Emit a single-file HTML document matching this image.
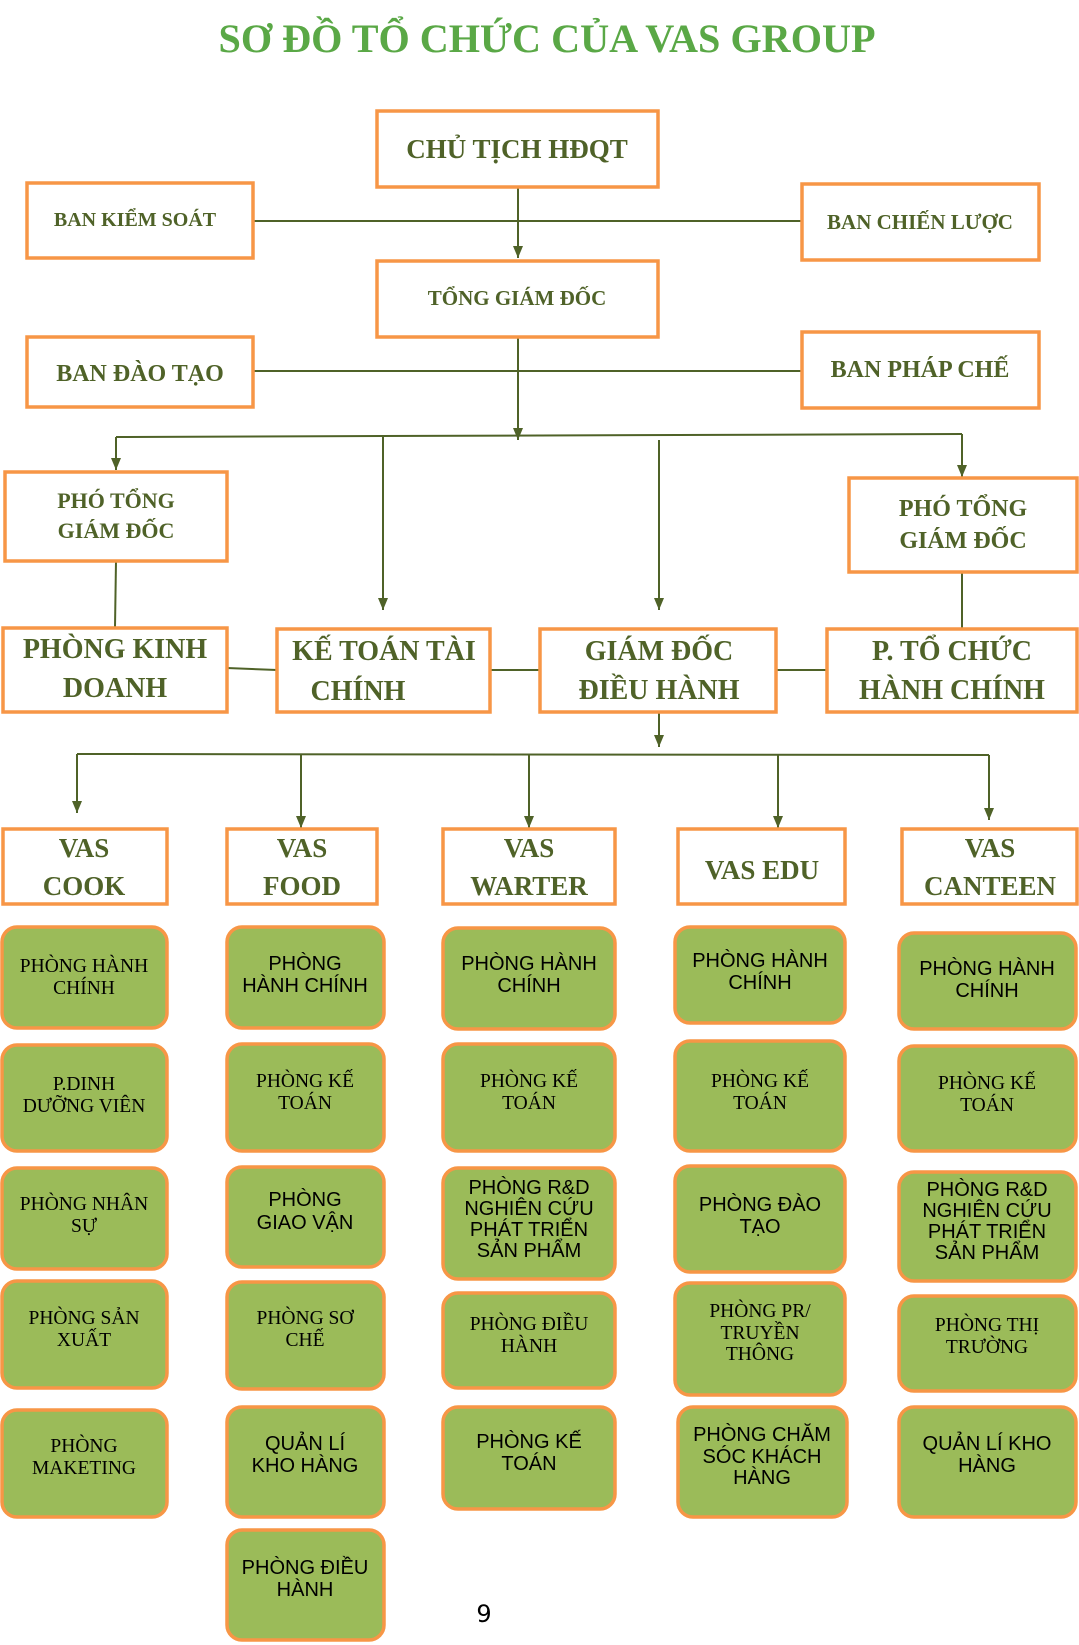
<!DOCTYPE html>
<html><head><meta charset="utf-8"><style>
html,body{margin:0;padding:0;background:#fff;width:1079px;height:1645px;overflow:hidden}
svg{display:block}
.t{font-family:"Liberation Serif",serif;font-weight:bold;fill:#4f6228;text-anchor:middle}
.g{font-family:"Liberation Sans",sans-serif;fill:#000;text-anchor:middle;font-size:20px}
.gs{font-family:"Liberation Serif",serif;fill:#000;text-anchor:middle;font-size:19.5px}
.b{fill:#fff;stroke:#f79646;stroke-width:3.5}
.gb{fill:#9bbb59;stroke:#f79646;stroke-width:3.5}
.l{stroke:#4f6228;stroke-width:2;fill:none}
</style></head><body>
<svg width="1079" height="1645" viewBox="0 0 1079 1645" xmlns="http://www.w3.org/2000/svg">
<defs>
<marker id="ar" viewBox="0 0 12 10" markerWidth="12" markerHeight="10" refX="12" refY="5" orient="auto" markerUnits="userSpaceOnUse"><path d="M0,0 L12,5 L0,10 Z" fill="#4f6228"/></marker></defs>

<text x="547" y="52" class="t" style="fill:#5aa846;font-size:40px" textLength="657" lengthAdjust="spacingAndGlyphs">SƠ ĐỒ TỔ CHỨC CỦA VAS GROUP</text>

<line class="l" x1="253" y1="221" x2="802" y2="221"/>
<line class="l" x1="518" y1="187" x2="518" y2="258" marker-end="url(#ar)"/>
<line class="l" x1="253" y1="371" x2="802" y2="371"/>
<line class="l" x1="518" y1="337" x2="518" y2="440" marker-end="url(#ar)"/>
<line class="l" x1="116" y1="437" x2="962" y2="434"/>
<line class="l" x1="116" y1="437" x2="116" y2="470" marker-end="url(#ar)"/>
<line class="l" x1="383" y1="437" x2="383" y2="610" marker-end="url(#ar)"/>
<line class="l" x1="659" y1="440" x2="659" y2="610" marker-end="url(#ar)"/>
<line class="l" x1="962" y1="434" x2="962" y2="477" marker-end="url(#ar)"/>
<line class="l" x1="116" y1="561" x2="115" y2="627"/>
<line class="l" x1="962" y1="572" x2="962" y2="628"/>
<line class="l" x1="227" y1="668" x2="277" y2="670"/>
<line class="l" x1="490" y1="670" x2="540" y2="670"/>
<line class="l" x1="776" y1="670" x2="827" y2="670"/>
<line class="l" x1="659" y1="712" x2="659" y2="747" marker-end="url(#ar)"/>
<line class="l" x1="77" y1="754" x2="989" y2="755"/>
<line class="l" x1="77" y1="754" x2="77" y2="813" marker-end="url(#ar)"/>
<line class="l" x1="301" y1="754" x2="301" y2="828" marker-end="url(#ar)"/>
<line class="l" x1="529" y1="754" x2="529" y2="828" marker-end="url(#ar)"/>
<line class="l" x1="778" y1="755" x2="778" y2="828" marker-end="url(#ar)"/>
<line class="l" x1="989" y1="755" x2="989" y2="820" marker-end="url(#ar)"/>

<rect class="b" x="377" y="111" width="281" height="76"/>
<text class="t" x="517" y="158" font-size="27">CHỦ TỊCH HĐQT</text>
<rect class="b" x="27" y="183" width="226" height="75"/>
<text class="t" x="135" y="226" font-size="20">BAN KIỂM SOÁT</text>
<rect class="b" x="802" y="184" width="237" height="76"/>
<text class="t" x="920" y="229" font-size="21">BAN CHIẾN LƯỢC</text>
<rect class="b" x="377" y="261" width="281" height="76"/>
<text class="t" x="517" y="305" font-size="21">TỔNG GIÁM ĐỐC</text>
<rect class="b" x="27" y="337" width="226" height="70"/>
<text class="t" x="140" y="381" font-size="24">BAN ĐÀO TẠO</text>
<rect class="b" x="802" y="332" width="237" height="76"/>
<text class="t" x="920" y="377" font-size="24">BAN PHÁP CHẾ</text>

<rect class="b" x="5" y="472" width="222" height="89"/>
<text class="t" x="116" y="508" font-size="22">PHÓ TỔNG</text>
<text class="t" x="116" y="538" font-size="22">GIÁM ĐỐC</text>
<rect class="b" x="849" y="478" width="228" height="94"/>
<text class="t" x="963" y="516" font-size="24">PHÓ TỔNG</text>
<text class="t" x="963" y="548" font-size="24">GIÁM ĐỐC</text>

<rect class="b" x="3" y="628" width="224" height="84"/>
<text class="t" x="115" y="658" font-size="28">PHÒNG KINH</text>
<text class="t" x="115" y="697" font-size="28">DOANH</text>
<rect class="b" x="277" y="629" width="213" height="83"/>
<text class="t" x="384" y="660" font-size="28">KẾ TOÁN TÀI</text>
<text class="t" x="358" y="700" font-size="28">CHÍNH</text>
<rect class="b" x="540" y="629" width="236" height="83"/>
<text class="t" x="659" y="660" font-size="28">GIÁM ĐỐC</text>
<text class="t" x="659" y="699" font-size="28">ĐIỀU HÀNH</text>
<rect class="b" x="827" y="629" width="250" height="83"/>
<text class="t" x="952" y="660" font-size="28">P. TỔ CHỨC</text>
<text class="t" x="952" y="699" font-size="28">HÀNH CHÍNH</text>

<rect class="b" x="3" y="829" width="164" height="75"/>
<text class="t" x="84" y="857" font-size="27">VAS</text><text class="t" x="84" y="895" font-size="27">COOK</text>
<rect class="b" x="227" y="829" width="150" height="75"/>
<text class="t" x="302" y="857" font-size="27">VAS</text><text class="t" x="302" y="895" font-size="27">FOOD</text>
<rect class="b" x="443" y="829" width="172" height="75"/>
<text class="t" x="529" y="857" font-size="27">VAS</text><text class="t" x="529" y="895" font-size="27">WARTER</text>
<rect class="b" x="678" y="829" width="167" height="75"/>
<text class="t" x="762" y="879" font-size="27">VAS EDU</text>
<rect class="b" x="902" y="829" width="175" height="75"/>
<text class="t" x="990" y="857" font-size="27">VAS</text><text class="t" x="990" y="895" font-size="27">CANTEEN</text>

<rect class="gb" x="2" y="927" width="165" height="101" rx="15"/>
<text class="gs" x="84" y="972">PHÒNG HÀNH</text><text class="gs" x="84" y="994">CHÍNH</text>
<rect class="gb" x="2" y="1045" width="165" height="106" rx="15"/>
<text class="gs" x="84" y="1090">P.DINH</text><text class="gs" x="84" y="1112">DƯỠNG VIÊN</text>
<rect class="gb" x="2" y="1168" width="165" height="101" rx="15"/>
<text class="gs" x="84" y="1210">PHÒNG NHÂN</text><text class="gs" x="84" y="1232">SỰ</text>
<rect class="gb" x="2" y="1281" width="165" height="107" rx="15"/>
<text class="gs" x="84" y="1324">PHÒNG SẢN</text><text class="gs" x="84" y="1346">XUẤT</text>
<rect class="gb" x="2" y="1410" width="165" height="107" rx="15"/>
<text class="gs" x="84" y="1452">PHÒNG</text><text class="gs" x="84" y="1474">MAKETING</text>

<rect class="gb" x="227" y="927" width="157" height="101" rx="15"/>
<text class="g" x="305" y="970">PHÒNG</text><text class="g" x="305" y="992">HÀNH  CHÍNH</text>
<rect class="gb" x="227" y="1044" width="157" height="107" rx="15"/>
<text class="gs" x="305" y="1087">PHÒNG KẾ</text><text class="gs" x="305" y="1109">TOÁN</text>
<rect class="gb" x="227" y="1167" width="157" height="100" rx="15"/>
<text class="g" x="305" y="1206">PHÒNG</text><text class="g" x="305" y="1229">GIAO VẬN</text>
<rect class="gb" x="227" y="1282" width="157" height="107" rx="15"/>
<text class="gs" x="305" y="1324">PHÒNG SƠ</text><text class="gs" x="305" y="1346">CHẾ</text>
<rect class="gb" x="227" y="1407" width="157" height="110" rx="15"/>
<text class="g" x="305" y="1450">QUẢN LÍ</text><text class="g" x="305" y="1472">KHO HÀNG</text>
<rect class="gb" x="227" y="1530" width="157" height="110" rx="15"/>
<text class="g" x="305" y="1574">PHÒNG ĐIỀU</text><text class="g" x="305" y="1596">HÀNH</text>

<rect class="gb" x="443" y="928" width="172" height="101" rx="15"/>
<text class="g" x="529" y="970">PHÒNG HÀNH</text><text class="g" x="529" y="992">CHÍNH</text>
<rect class="gb" x="443" y="1044" width="172" height="107" rx="15"/>
<text class="gs" x="529" y="1087">PHÒNG KẾ</text><text class="gs" x="529" y="1109">TOÁN</text>
<rect class="gb" x="443" y="1168" width="172" height="111" rx="15"/>
<text class="g" x="529" y="1194">PHÒNG R&amp;D</text><text class="g" x="529" y="1215">NGHIÊN CỨU</text><text class="g" x="529" y="1236">PHÁT TRIỂN</text><text class="g" x="529" y="1257">SẢN PHẨM</text>
<rect class="gb" x="443" y="1293" width="172" height="95" rx="15"/>
<text class="gs" x="529" y="1330">PHÒNG ĐIỀU</text><text class="gs" x="529" y="1352">HÀNH</text>
<rect class="gb" x="443" y="1407" width="172" height="102" rx="15"/>
<text class="g" x="529" y="1448">PHÒNG KẾ</text><text class="g" x="529" y="1470">TOÁN</text>

<rect class="gb" x="675" y="927" width="170" height="96" rx="15"/>
<text class="g" x="760" y="967">PHÒNG HÀNH</text><text class="g" x="760" y="989">CHÍNH</text>
<rect class="gb" x="675" y="1041" width="170" height="110" rx="15"/>
<text class="gs" x="760" y="1087">PHÒNG KẾ</text><text class="gs" x="760" y="1109">TOÁN</text>
<rect class="gb" x="675" y="1166" width="170" height="106" rx="15"/>
<text class="g" x="760" y="1211">PHÒNG ĐÀO</text><text class="g" x="760" y="1233">TẠO</text>
<rect class="gb" x="675" y="1283" width="170" height="112" rx="15"/>
<text class="gs" x="760" y="1317">PHÒNG PR/</text><text class="gs" x="760" y="1339">TRUYỀN</text><text class="gs" x="760" y="1360">THÔNG</text>
<rect class="gb" x="678" y="1407" width="169" height="110" rx="15"/>
<text class="g" x="762" y="1441">PHÒNG CHĂM</text><text class="g" x="762" y="1463">SÓC KHÁCH</text><text class="g" x="762" y="1484">HÀNG</text>

<rect class="gb" x="899" y="933" width="177" height="96" rx="15"/>
<text class="g" x="987" y="975">PHÒNG HÀNH</text><text class="g" x="987" y="997">CHÍNH</text>
<rect class="gb" x="899" y="1046" width="177" height="105" rx="15"/>
<text class="gs" x="987" y="1089">PHÒNG KẾ</text><text class="gs" x="987" y="1111">TOÁN</text>
<rect class="gb" x="899" y="1172" width="177" height="109" rx="15"/>
<text class="g" x="987" y="1196">PHÒNG R&amp;D</text><text class="g" x="987" y="1217">NGHIÊN CỨU</text><text class="g" x="987" y="1238">PHÁT TRIỂN</text><text class="g" x="987" y="1259">SẢN PHẨM</text>
<rect class="gb" x="899" y="1296" width="177" height="95" rx="15"/>
<text class="gs" x="987" y="1331">PHÒNG THỊ</text><text class="gs" x="987" y="1353">TRƯỜNG</text>
<rect class="gb" x="899" y="1407" width="177" height="110" rx="15"/>
<text class="g" x="987" y="1450">QUẢN LÍ KHO</text><text class="g" x="987" y="1472">HÀNG</text>

<text x="484" y="1622" style="font-family:'DejaVu Sans','Liberation Sans',sans-serif;font-size:24px;fill:#000" text-anchor="middle">9</text>
</svg>
</body></html>
